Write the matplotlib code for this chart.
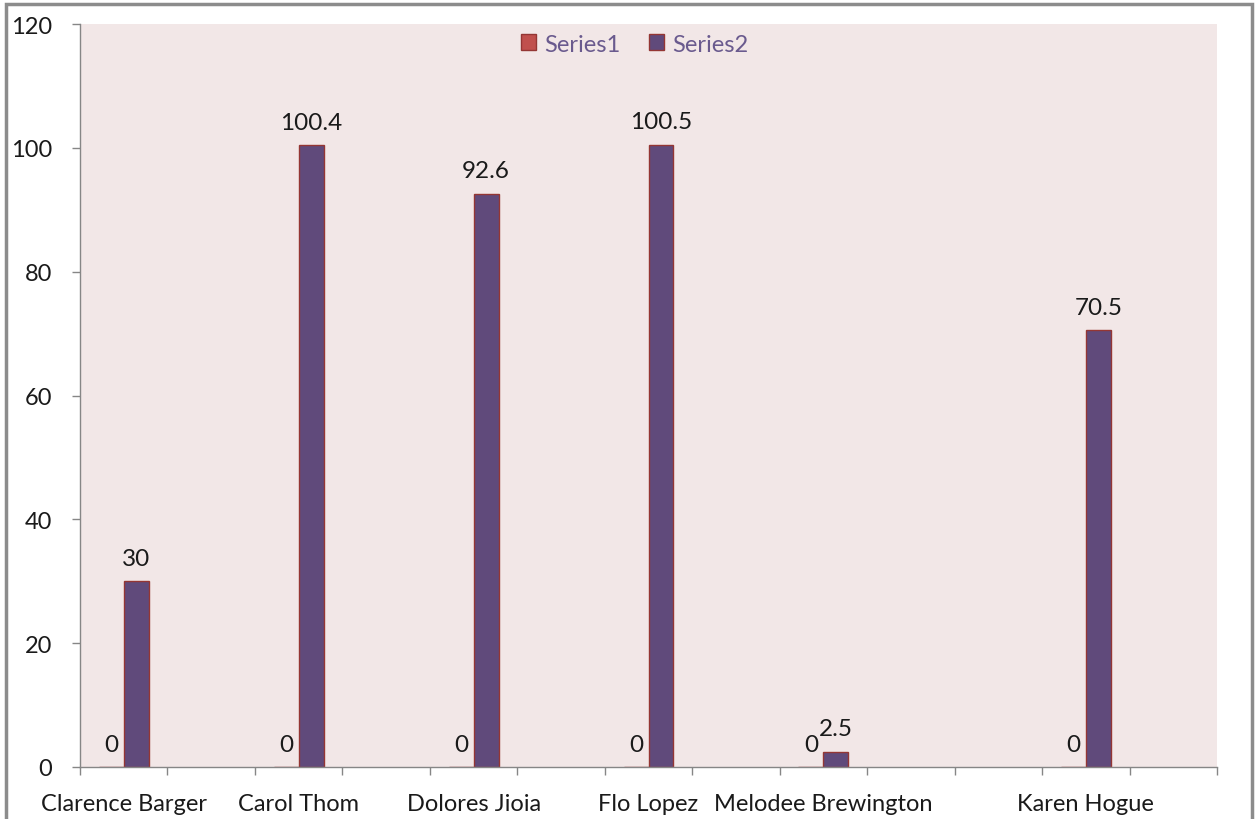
import numpy as np
import matplotlib
matplotlib.use('Agg')
import matplotlib.pyplot as plt
from matplotlib.patches import Rectangle

plt.rcParams['font.family'] = ['Lato', 'DejaVu Sans']

# data (blank categories have no values)
categories = ['Clarence Barger', '', 'Carol Thom', '', 'Dolores Jioia', '', 'Flo Lopez', '',
              'Melodee Brewington', '', '', 'Karen Hogue', '']
series1 = [0, None, 0, None, 0, None, 0, None, 0, None, None, 0, None]
series2 = [30, None, 100.4, None, 92.6, None, 100.5, None, 2.5, None, None, 70.5, None]
yticks = [0, 20, 40, 60, 80, 100, 120]

fig = plt.figure(figsize=(12.59, 8.20), dpi=100)
ax = fig.add_axes([80 / 1259, 1 - 768 / 820, 1137 / 1259, 743 / 820])
ax.set_facecolor('#F2E7E7')

w = 0.2857
idx1 = [i for i, v in enumerate(series1) if v is not None]
idx2 = [i for i, v in enumerate(series2) if v is not None]
b1 = ax.bar(np.array(idx1) - w / 2, [series1[i] for i in idx1], width=w,
            color='#C0504D', edgecolor='#943634', linewidth=1, label='Series1')
b2 = ax.bar(np.array(idx2) + w / 2, [series2[i] for i in idx2], width=w,
            color='#604A7B', edgecolor='#943634', linewidth=1, label='Series2')
ax.bar_label(b1, fmt='{:g}', padding=9, fontsize=17.5, color='#1A1A1A')
ax.bar_label(b2, fmt='{:g}', padding=9, fontsize=17.5, color='#1A1A1A')

ax.set_xlim(-0.5, len(categories) - 0.5)
ax.set_ylim(0, 120)
ax.set_yticks(yticks)
ax.set_xticks(range(len(categories)))
ax.set_xticklabels(categories)
ax.set_xticks(np.arange(-0.5, len(categories)), minor=True)
ax.tick_params(axis='x', which='major', length=0, pad=19, labelsize=17, colors='#1A1A1A')
ax.tick_params(axis='x', which='minor', length=6, width=1, color='#868686')
ax.tick_params(axis='y', length=6, width=1, color='#868686', pad=14, labelsize=17, labelcolor='#1A1A1A')

for s in ['top', 'right']:
    ax.spines[s].set_visible(False)
for s in ['left', 'bottom']:
    ax.spines[s].set_color('#868686')
    ax.spines[s].set_linewidth(1)

leg = ax.legend(loc='center', bbox_to_anchor=(0.488, 0.973), ncol=2, frameon=False,
                fontsize=17, handlelength=0.65, handleheight=0.65, handletextpad=0.35,
                columnspacing=1.2, labelcolor='#6A5A8E')

# outer chart border
fig.patches.append(Rectangle((6 / 1259, -0.05), 1246 / 1259, 1 - 5 / 820 + 0.05,
                             transform=fig.transFigure, fill=False,
                             edgecolor='#8C8C8C', linewidth=2.5))

fig.savefig('out.png', dpi=100)
